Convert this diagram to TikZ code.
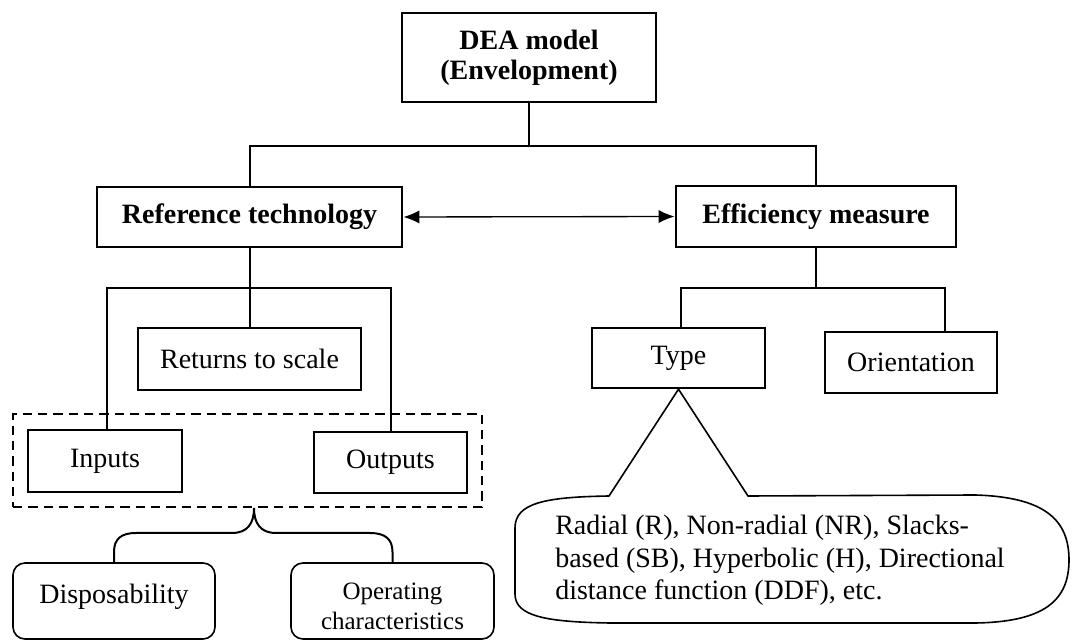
\documentclass[tikz,border=0pt]{standalone}
\usepackage{fontspec}
\setmainfont{Liberation Serif}
\usetikzlibrary{arrows.meta,calc}
\begin{document}
\begin{tikzpicture}[x=0.75pt,y=-0.75pt,
  every node/.style={font=\fontsize{21}{24}\selectfont, inner sep=0pt},
  bx/.style n args={2}{draw, minimum width=#1*0.75pt, minimum height=#2*0.75pt},
  mainbox/.style={line width=2.2pt, font=\fontsize{21}{22.5}\selectfont\bfseries, align=center},
  subbox/.style={line width=1.8pt},
  softbox/.style={line width=1.2pt, rounded corners=9pt},
  grpbox/.style={draw, line width=1.6pt, dash pattern=on 7pt off 4.5pt},
  conn/.style={line width=1.5pt},
  biarrow/.style={{Latex[length=12pt,width=10pt]}-{Latex[length=12pt,width=10pt]}, line width=1pt},
  callout/.style={line width=1.2pt, line join=round},
]
\useasboundingbox (0,0) rectangle (1072,641);

% main boxes
\node[mainbox,bx={254}{89}] (dea) at (529,57.5) {DEA model\\(Envelopment)};
\node[mainbox,bx={305}{60}] (ref) at (249.5,217) {Reference technology};
\node[mainbox,bx={280}{61}] (eff) at (816,216.5) {Efficiency measure};

% sub boxes
\node[subbox,bx={223}{62}] (rts) at (249.5,359) {Returns to scale};
\node[subbox,bx={154}{62}] (inp) at (105,461) {Inputs};
\node[subbox,bx={153}{61}] (outp) at (390.5,462.5) {Outputs};
\node[subbox,bx={173}{60}] (type) at (678.5,358) {Type};
\node[subbox,bx={172}{61}] (orient) at (911,362.5) {Orientation};

% dashed group
\node[grpbox,bx={469}{93}] (grp) at (247.5,460.5) {};

% rounded boxes
\node[softbox,bx={202}{76}] (disp) at (114,601) {\raisebox{3pt}[\height][\depth]{Disposability}};
\node[softbox,bx={203}{76}, font=\fontsize{18.75}{22.5}\selectfont] (opc) at (392.5,601)
  {\raisebox{-5.5pt}[\height][\depth]{\begin{tabular}{@{}c@{}}Operating\\characteristics\end{tabular}}};

% callout text
\node[anchor=west, align=left, font=\fontsize{21}{24.4}\selectfont] (ctext) at (555,560.5)
  {Radial (R), Non-radial (NR), Slacks-\\based (SB), Hyperbolic (H), Directional\\distance function (DDF), etc.};

% callout shape
\draw[callout] (609,496) .. controls (545,497) and (515,503) .. (515,528) -- (515,594)
  .. controls (515,616) and (545,622) .. (610,623) -- (975,623)
  .. controls (1045,622) and (1069,600) .. (1069,560)
  .. controls (1069,520) and (1045,497) .. (975,495) -- (748,496) -- (type.south) -- cycle;

% top connectors
\coordinate (jt) at (529,146);
\draw[conn] (dea.south) -- (jt);
\draw[conn] (ref.north) |- (jt) -| (eff.north);

% double arrow
\draw[biarrow] (ref.east) -- (eff.west);

% left tree
\path (ref.south) ++(0,40) coordinate (jl);
\draw[conn] (ref.south) -- (jl) -- (rts.north);
\draw[conn] ($(inp.north)+(2,0)$) |- (jl) -| ($(outp.north)+(0.5,0)$);

% right tree
\path (eff.south) ++(0,40) coordinate (jr);
\draw[conn] (eff.south) -- (jr);
\draw[conn] ($(type.north)+(2.5,0)$) |- (jr) -| ($(orient.north)+(34,0)$);

% brace
\coordinate (bt) at (254,508);
\draw[conn] (disp.north) -- (114,552) .. controls (114,539) and (121,533) .. (136,533) -- (232,533)
  .. controls (247,533) and (254,524) .. (bt)
  .. controls (254,524) and (261,533) .. (276,533) -- (370,533)
  .. controls (385,533) and (392.5,539) .. (392.5,552) -- (opc.north);
\end{tikzpicture}
\end{document}
